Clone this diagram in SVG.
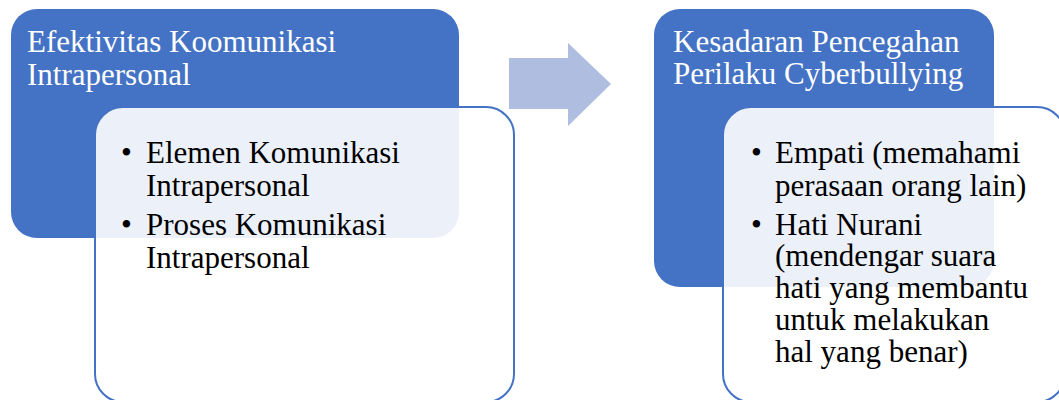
<svg xmlns="http://www.w3.org/2000/svg" width="1059" height="400" viewBox="0 0 1059 400">
  <style>
    .hdr { fill: #4472C4; }
    .card { fill: #FFFFFF; fill-opacity: 0.9; stroke: #4472C4; stroke-width: 2; }
    .arrow { fill: #AFBDE0; }
    text { font-family: "Liberation Serif", "Times New Roman", serif; font-size: 31px; }
    .ht { fill: #FFFFFF; }
    .bt { fill: #000000; }
  </style>
  <g id="node-left-header">
    <rect class="hdr" x="11" y="9" width="448" height="229" rx="26" ry="26"/>
    <text class="ht" x="27" y="52">Efektivitas Koomunikasi</text>
    <text class="ht" x="27" y="85">Intrapersonal</text>
  </g>
  <g id="node-left-card">
    <rect class="card" x="95" y="107" width="419" height="295" rx="28" ry="28"/>
    <text class="bt" x="121" y="163">•</text>
    <text class="bt" x="146" y="163">Elemen Komunikasi</text>
    <text class="bt" x="146" y="196">Intrapersonal</text>
    <text class="bt" x="121" y="235">•</text>
    <text class="bt" x="146" y="235">Proses Komunikasi</text>
    <text class="bt" x="146" y="268">Intrapersonal</text>
  </g>
  <g id="connectors">
    <polygon class="arrow" points="509,58 568,58 568,43 611,84 568,126 568,109 509,109"/>
  </g>
  <g id="node-right-header">
    <rect class="hdr" x="654" y="9" width="340" height="278" rx="26" ry="26"/>
    <text class="ht" x="673" y="52">Kesadaran Pencegahan</text>
    <text class="ht" x="673" y="84">Perilaku Cyberbullying</text>
  </g>
  <g id="node-right-card">
    <rect class="card" x="723" y="107" width="342" height="295" rx="28" ry="28"/>
    <text class="bt" x="751" y="163">•</text>
    <text class="bt" x="775" y="163">Empati (memahami</text>
    <text class="bt" x="775" y="196">perasaan orang lain)</text>
    <text class="bt" x="751" y="235">•</text>
    <text class="bt" x="775" y="235">Hati Nurani</text>
    <text class="bt" x="775" y="266">(mendengar suara</text>
    <text class="bt" x="775" y="298">hati yang membantu</text>
    <text class="bt" x="775" y="330">untuk melakukan</text>
    <text class="bt" x="775" y="362">hal yang benar)</text>
  </g>
</svg>
